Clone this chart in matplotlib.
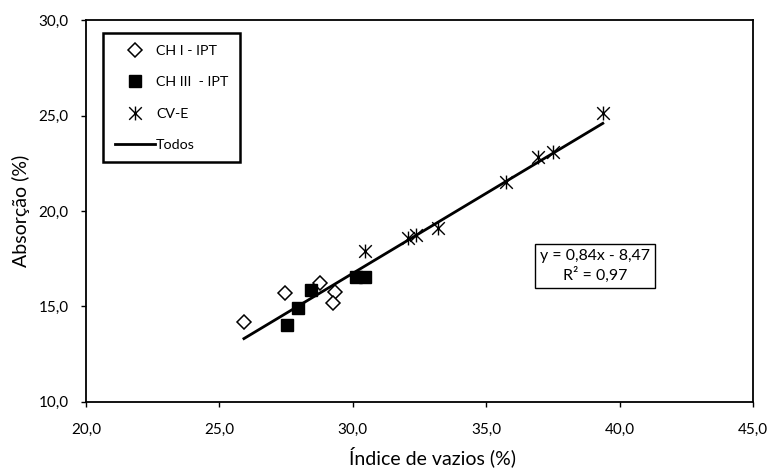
import numpy as np
import matplotlib
matplotlib.use("Agg")
import matplotlib.pyplot as plt
from matplotlib.path import Path

plt.rcParams['font.family'] = ['Lato', 'DejaVu Sans']

# Data
ch1_x = [25.92, 27.47, 28.77, 29.35, 29.25]
ch1_y = [14.19, 15.68, 16.24, 15.76, 15.15]

ch3_x = [27.52, 27.96, 28.42, 30.12, 30.46]
ch3_y = [14.02, 14.92, 15.85, 16.52, 16.52]

cve_x = [30.46, 32.08, 32.37, 33.21, 35.73, 36.95, 37.49, 39.37]
cve_y = [17.92, 18.57, 18.74, 19.09, 21.51, 22.85, 23.11, 25.13]

slope = 0.84
intercept = -8.47
r2 = 0.97

labels = ["CH I - IPT", "CH III  - IPT", "CV-E", "Todos"]
x_ticks = [20, 25, 30, 35, 40, 45]
y_ticks = [10, 15, 20, 25, 30]


def fmt(v, d=1):
    return f"{v:.{d}f}".replace(".", ",")


fig = plt.figure(figsize=(7.71, 4.70), dpi=100)
ax = fig.add_axes([0.1115, 0.1457, 0.8652, 0.8107])

# Excel-style star marker: X plus vertical bar
star = Path([(-1, -1), (1, 1), (-1, 1), (1, -1), (0, -1.1), (0, 1.1)],
            [Path.MOVETO, Path.LINETO, Path.MOVETO, Path.LINETO, Path.MOVETO, Path.LINETO])

ax.plot(ch1_x, ch1_y, linestyle='none', marker='D', markersize=7,
        markerfacecolor='white', markeredgecolor='black', markeredgewidth=1.1,
        label=labels[0], zorder=3)
ax.plot(ch3_x, ch3_y, linestyle='none', marker='s', markersize=8.5,
        markerfacecolor='black', markeredgecolor='black', label=labels[1], zorder=3)
ax.plot(cve_x, cve_y, linestyle='none', marker=star, markersize=10,
        markerfacecolor='none', markeredgecolor='black', markeredgewidth=1.0,
        label=labels[2], zorder=3)

all_x = np.array(ch1_x + ch3_x + cve_x)
fx = np.array([all_x.min(), all_x.max()])
ax.plot(fx, slope * fx + intercept, color='black', linewidth=2.0, label=labels[3], zorder=2)

ax.set_xlim(20, 45)
ax.set_ylim(10, 30)
ax.set_xticks(x_ticks)
ax.set_yticks(y_ticks)
ax.set_xticklabels([fmt(v) for v in x_ticks])
ax.set_yticklabels([fmt(v) for v in y_ticks])
ax.tick_params(direction='out', length=3.3, width=1.0, labelsize=11, colors='black')
ax.tick_params(axis='x', pad=12)
ax.tick_params(axis='y', pad=9)

for s in ax.spines.values():
    s.set_linewidth(1.3)
    s.set_color('black')

ax.set_xlabel("Índice de vazios (%)", fontsize=14)
ax.set_ylabel("Absorção (%)", fontsize=14)
ax.xaxis.label.set_va('baseline')
ax.yaxis.label.set_va('center')
ax.xaxis.set_label_coords(0.519, -0.164)
ax.yaxis.set_label_coords(-0.0977, 0.5)

leg = ax.legend(loc='upper left', bbox_to_anchor=(0.026, 0.966), fontsize=10.3,
                frameon=True, fancybox=False, edgecolor='black', framealpha=1,
                borderpad=0.8, labelspacing=1.35, handlelength=2.8, handletextpad=0.1,
                borderaxespad=0)
leg.get_frame().set_linewidth(1.8)

eq_text = f"y = {fmt(slope, 2)}x - {fmt(-intercept, 2)}\nR² = {fmt(r2, 2)}"
ax.text(39.08, 17.11, eq_text,
        ha='center', va='center', fontsize=11.4, linespacing=1.3,
        bbox=dict(boxstyle='square,pad=0.3', facecolor='white', edgecolor='black', linewidth=1.0))

fig.savefig("out.png", dpi=100)
